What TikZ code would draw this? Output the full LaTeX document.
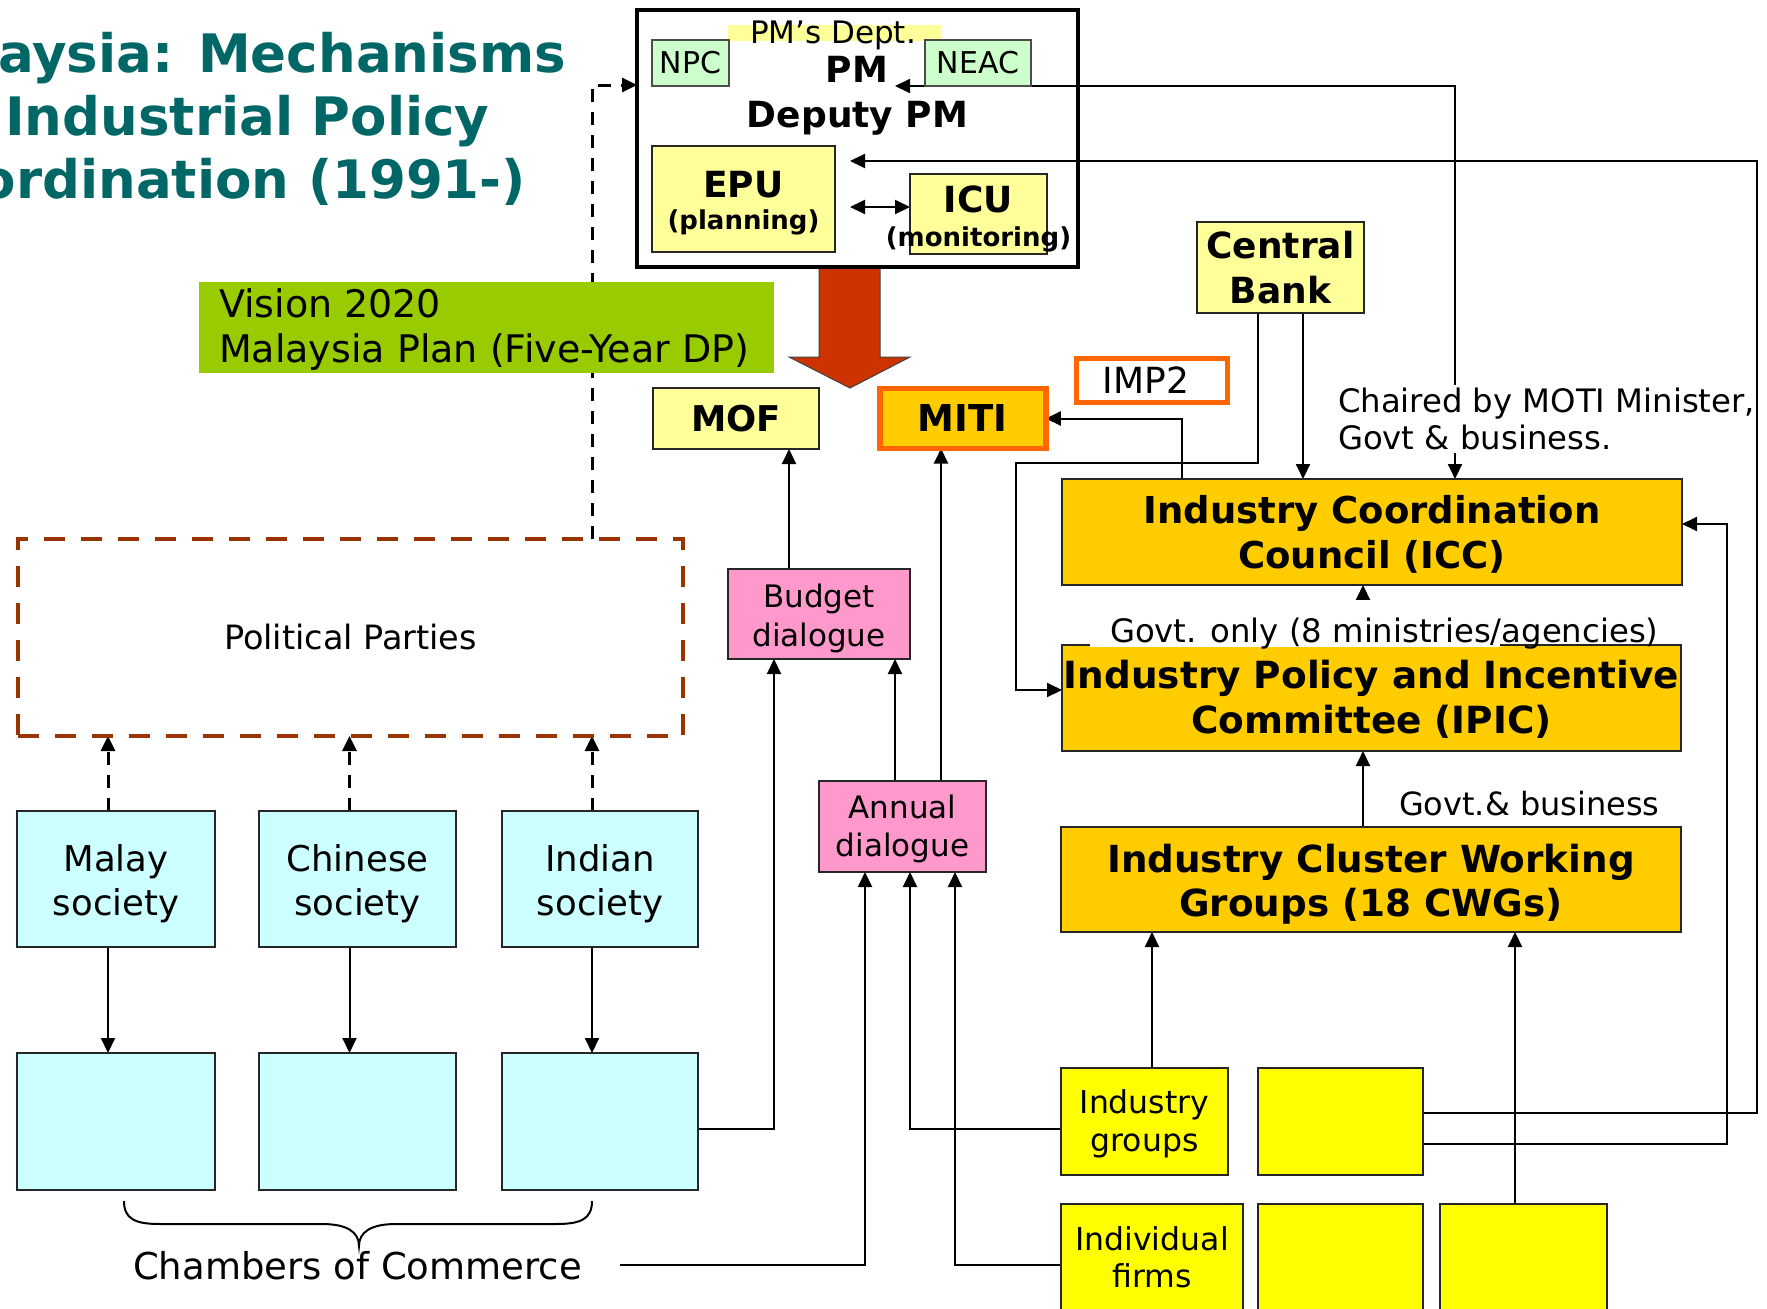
\documentclass[tikz,border=0pt]{standalone}
\usepackage{fontspec}
\setmainfont{DejaVu Sans}
\usetikzlibrary{arrows.meta}
\pgfdeclarelayer{bg}
\pgfsetlayers{bg,main}
\definecolor{titlecol}{HTML}{006666}
\definecolor{ltyel}{HTML}{FFFF99}
\definecolor{ltgrn}{HTML}{CCFFCC}
\definecolor{visgrn}{HTML}{99CC00}
\definecolor{redarr}{HTML}{CC3300}
\definecolor{goldf}{HTML}{FFCC00}
\definecolor{orng}{HTML}{FF6600}
\definecolor{pinkf}{HTML}{FF99CC}
\definecolor{cyanf}{HTML}{CCFFFF}
\definecolor{yelf}{HTML}{FFFF00}
\definecolor{brn}{HTML}{993300}
\newcommand\fsz[2]{\fontsize{#1}{#2}\selectfont}
\begin{document}
\begin{tikzpicture}[x=1pt,y=-1pt,
  bx/.style={draw=black!85, line width=1.8pt, inner sep=0pt, outer sep=0pt, align=center},
  conn/.style={line width=2pt, -{Triangle[length=15pt,width=14pt]}},
  dconn/.style={line width=2pt, {Triangle[length=15pt,width=14pt]}-{Triangle[length=15pt,width=14pt]}},
  dashconn/.style={line width=3pt, dash pattern=on 13pt off 10pt, -{Triangle[length=15pt,width=14pt]}},
  ttl/.style={anchor=base west, inner sep=0pt, text=titlecol, font=\bfseries\fsz{53}{60}},
  lbl/.style={inner sep=0pt, outer sep=0pt}
]
\useasboundingbox (0,0) rectangle (1767,1309);
\clip (0,0) rectangle (1767,1309);

% ---------- title ----------
\node[ttl] (title1) at (-2,72) {\llap{Mal}aysia: Mechanisms};
\node[ttl] (title2) at (5,135) {\llap{of }Industrial Policy};
\node[ttl] (title3) at (16,198) {\llap{Coo}rdination (1991-)};

% ---------- PM's Dept ----------
\node[draw=black, line width=4.5pt, minimum width=441pt, minimum height=257pt, inner sep=0pt, outer sep=0pt] (pmd) at (857.5,138.5) {};
\fill[ltyel] (728,25) rectangle (941,41);
\node[lbl, anchor=base, font=\fsz{31}{36}] (dept) at (833,43) {PM’s Dept.};
\node[bx, draw=black!70, line width=1.4pt, fill=ltgrn, minimum width=77pt, minimum height=46pt, font=\fsz{30}{36}] (npc) at (690.5,63) {NPC};
\node[bx, draw=black!70, line width=1.4pt, fill=ltgrn, minimum width=106pt, minimum height=46pt, font=\fsz{30}{36}] (neac) at (978,63) {NEAC};
\node[lbl, anchor=base, font=\bfseries\fsz{36}{40}] (pm) at (857,82) {PM};
\node[lbl, anchor=base, font=\bfseries\fsz{36}{40}] (dpm) at (857.5,127) {Deputy PM};
\node[bx, fill=ltyel, minimum width=183pt, minimum height=106pt, font=\bfseries\fsz{36}{32}] (epu) at (743.5,199)
  {\rule{0pt}{36pt}EPU\\{\fsz{26}{32}(planning)}\rule[-8pt]{0pt}{0pt}};
\node[bx, fill=ltyel, minimum width=137pt, minimum height=76pt, font=\bfseries\fsz{36}{34}] (icu) at (978.5,214)
  {\rule{0pt}{38pt}ICU\\\makebox[0pt]{\fsz{26}{34}(monitoring)}\rule[-8pt]{0pt}{0pt}};

% ---------- Vision ----------
\node[fill=visgrn, minimum width=575pt, minimum height=91pt, inner sep=0pt] (vis) at (486.5,327.5) {};
\node[lbl, anchor=west, align=left, font=\fsz{38}{45}] (vistxt) at (219,327.5)
  {\rule{0pt}{34pt}Vision 2020\\Malaysia Plan (Five-Year DP)\rule[-10pt]{0pt}{0pt}};

% ---------- ministries ----------
\node[bx, fill=ltyel, minimum width=166pt, minimum height=61pt, font=\bfseries\fsz{35.5}{40}] (mof) at (736,418.5) {MOF};
\node[bx, draw=orng, line width=5.5pt, fill=goldf, minimum width=166pt, minimum height=60pt, font=\bfseries\fsz{37}{40}] (miti) at (962.75,418.5) {MITI};
\node[bx, draw=orng, line width=5pt, fill=white, minimum width=151pt, minimum height=44pt, font=\fsz{36}{40}] (imp) at (1152,380.5) {IMP2\hspace*{12pt}};
\node[bx, fill=ltyel, minimum width=167pt, minimum height=91pt, font=\bfseries\fsz{36}{45}] (cb) at (1280.5,267.5)
  {\rule{0pt}{34pt}Central\\Bank\rule[-8pt]{0pt}{0pt}};
\node[lbl, anchor=west, align=left, fill=white, font=\fsz{32.3}{37}] (chair) at (1338,419)
  {\rule{0pt}{27pt}Chaired by MOTI Minister,\\Govt \& business.\rule[-4pt]{0pt}{0pt}};

% ---------- councils ----------
\node[bx, fill=goldf, minimum width=620pt, minimum height=106pt, font=\bfseries\fsz{37}{45}] (icc) at (1372,532)
  {\rule{0pt}{35pt}Industry Coordination\\Council (ICC)\rule[-8pt]{0pt}{0pt}};
\node[bx, fill=goldf, minimum width=619pt, minimum height=106pt, font=\bfseries\fsz{37.4}{45}] (ipic) at (1371.5,698)
  {\rule{0pt}{33pt}Industry Policy and Incentive\\Committee (IPIC)\rule[-8pt]{0pt}{0pt}};
\fill[white] (1090,600) rectangle (1500,646.5);
\node[lbl, anchor=base west, font=\fsz{32.3}{36}] (gov1) at (1110,642) {Govt. only (8 ministries/agencies)};
\coordinate (gtop) at ([yshift=5pt]gov1.north);
\node[lbl, anchor=base west, font=\fsz{32}{36}] (gov2) at (1399,815) {Govt.\& business};
\node[bx, fill=goldf, minimum width=620pt, minimum height=105pt, font=\bfseries\fsz{37.3}{44}] (icwg) at (1371,879.5)
  {\rule{0pt}{38pt}Industry Cluster Working\\Groups (18 CWGs)\rule[-9pt]{0pt}{0pt}};

% ---------- business ----------
\node[bx, fill=yelf, minimum width=167pt, minimum height=107pt, font=\fsz{31.5}{38}] (ig) at (1144.5,1121.5)
  {\rule{0pt}{29pt}Industry\\groups\rule[-8pt]{0pt}{0pt}};
\node[bx, fill=yelf, minimum width=165pt, minimum height=107pt] (yb2) at (1340.5,1121.5) {};
\node[bx, fill=yelf, minimum width=182pt, minimum height=126pt, font=\fsz{31.5}{37}] (if) at (1152,1267)
  {\rule{0pt}{26pt}Individual\\firms\rule[-23pt]{0pt}{0pt}};
\node[bx, fill=yelf, minimum width=165pt, minimum height=126pt] (yb4) at (1340.5,1267) {};
\node[bx, fill=yelf, minimum width=167pt, minimum height=126pt] (yb5) at (1523.5,1267) {};

% ---------- dialogues ----------
\node[bx, fill=pinkf, minimum width=182pt, minimum height=90pt, font=\fsz{31}{39}] (budget) at (819,614)
  {\rule{0pt}{33pt}Budget\\dialogue\rule[-8pt]{0pt}{0pt}};
\node[bx, fill=pinkf, minimum width=167pt, minimum height=91pt, font=\fsz{31}{38}] (annual) at (902.5,826.5)
  {\rule{0pt}{29pt}Annual\\dialogue\rule[-8pt]{0pt}{0pt}};

% ---------- society ----------
\node[draw=brn, line width=4.5pt, dash pattern=on 21pt off 16pt, minimum width=665pt, minimum height=197pt, inner sep=0pt, outer sep=0pt, font=\fsz{33.5}{40}] (pp) at (350.5,637.5) {Political Parties};
\node[bx, fill=cyanf, minimum width=198pt, minimum height=136pt, font=\fsz{35.5}{44}] (s1) at (116,879)
  {\rule{0pt}{37pt}Malay\\society\rule[-9pt]{0pt}{0pt}};
\node[bx, fill=cyanf, minimum width=197pt, minimum height=136pt, font=\fsz{35.5}{44}] (s2) at (357.5,879)
  {\rule{0pt}{37pt}Chinese\\society\rule[-9pt]{0pt}{0pt}};
\node[bx, fill=cyanf, minimum width=196pt, minimum height=136pt, font=\fsz{35.5}{44}] (s3) at (600,879)
  {\rule{0pt}{37pt}Indian\\society\rule[-9pt]{0pt}{0pt}};
\node[bx, fill=cyanf, minimum width=198pt, minimum height=137pt] (c1) at (116,1121.5) {};
\node[bx, fill=cyanf, minimum width=197pt, minimum height=137pt] (c2) at (357.5,1121.5) {};
\node[bx, fill=cyanf, minimum width=196pt, minimum height=137pt] (c3) at (600,1121.5) {};
\draw[line width=2pt] (124,1201) .. controls (124,1219) and (135,1224) .. (160,1224) -- (322,1224)
  .. controls (347,1224) and (359,1232) .. (359,1246) .. controls (359,1232) and (371,1224) .. (396,1224)
  -- (556,1224) .. controls (581,1224) and (592,1219) .. (592,1201);
\node[lbl, anchor=base, font=\fsz{37}{40}] (coc) at (357.5,1279) {Chambers of Commerce};

% ---------- connectors ----------
\begin{pgfonlayer}{bg}
\filldraw[fill=redarr, draw=black!75, line width=1pt] ([xshift=-38.5pt]pmd.south) -- ++(0,90) -- ++(-30,0) -- ++(61,31) -- ++(60,-31) -- ++(-30,0) -- ++(0,-90) -- cycle;
\foreach \i in {1,2,3} {
  \coordinate (sd\i) at ([xshift=-8pt]s\i.south);
  \draw[conn] (sd\i) -- (sd\i |- c\i.north);
  \coordinate (su\i) at ([xshift=-8pt]s\i.north);
  \draw[dashconn] (su\i) -- (su\i |- pp.south);
}
\coordinate (pu) at ([xshift=241.5pt]pp.north);
\draw[dashconn] (pu) |- ([yshift=53.5pt]pmd.west);
\coordinate (bu) at ([xshift=-30pt]budget.north);
\draw[conn] (bu) -- (bu |- mof.south);
\coordinate (au1) at ([xshift=-7.5pt]annual.north);
\draw[conn] (au1) -- (au1 |- budget.south);
\coordinate (au2) at ([xshift=38.5pt]annual.north);
\draw[conn] (au2) -- (au2 |- miti.south);
\coordinate (cb3) at ([xshift=-45pt]budget.south);
\draw[conn] ([yshift=-7.5pt]c3.east) -| (cb3);
\coordinate (ad1) at ([xshift=-37.5pt]annual.south);
\draw[conn] ([xshift=38pt]coc.east) -| (ad1);
\coordinate (ad2) at ([xshift=7.5pt]annual.south);
\draw[conn] ([yshift=-7.5pt]ig.west) -| (ad2);
\coordinate (ad3) at ([xshift=52.5pt]annual.south);
\draw[conn] ([yshift=2pt]if.west) -| (ad3);
\coordinate (iu) at ([xshift=7.5pt]ig.north);
\draw[conn] (iu) -- (iu |- icwg.south);
\coordinate (yu) at ([xshift=-8.5pt]yb5.north);
\draw[conn] (yu) -- (yu |- icwg.south);
\coordinate (wu) at ([xshift=-8pt]icwg.north);
\draw[conn] (wu) -- (wu |- ipic.south);
\coordinate (pu2) at ([xshift=-9pt]icc.south);
\draw[conn] (pu2 |- gtop) -- (pu2);
\coordinate (cbd) at ([xshift=22.5pt]cb.south);
\draw[conn] (cbd) -- (cbd |- icc.north);
\coordinate (cbl) at ([xshift=-22.5pt]cb.south);
\coordinate (k1) at (1016,463);
\draw[conn] (cbl) |- (k1) |- ([yshift=8pt]ipic.west);
\coordinate (im) at ([xshift=-190pt]icc.north);
\draw[conn] (im) |- (miti.east);
\draw[dconn] ([xshift=37.5pt,yshift=52.5pt]pmd.center) -| ([xshift=83pt]icc.north);
\coordinate (r1) at (1757,161);
\draw[conn] ([yshift=8.5pt]yb2.east) -| (r1) -- ([xshift=15pt,yshift=38pt]epu.east);
\coordinate (r2) at (1727,524);
\draw[conn] ([yshift=-22.5pt]yb2.east) -| (r2) -- ([yshift=8pt]icc.east);
\draw[dconn] ([xshift=15pt,yshift=-8pt]epu.east) -- ([yshift=7pt]icu.west);
\end{pgfonlayer}
\end{tikzpicture}
\end{document}
